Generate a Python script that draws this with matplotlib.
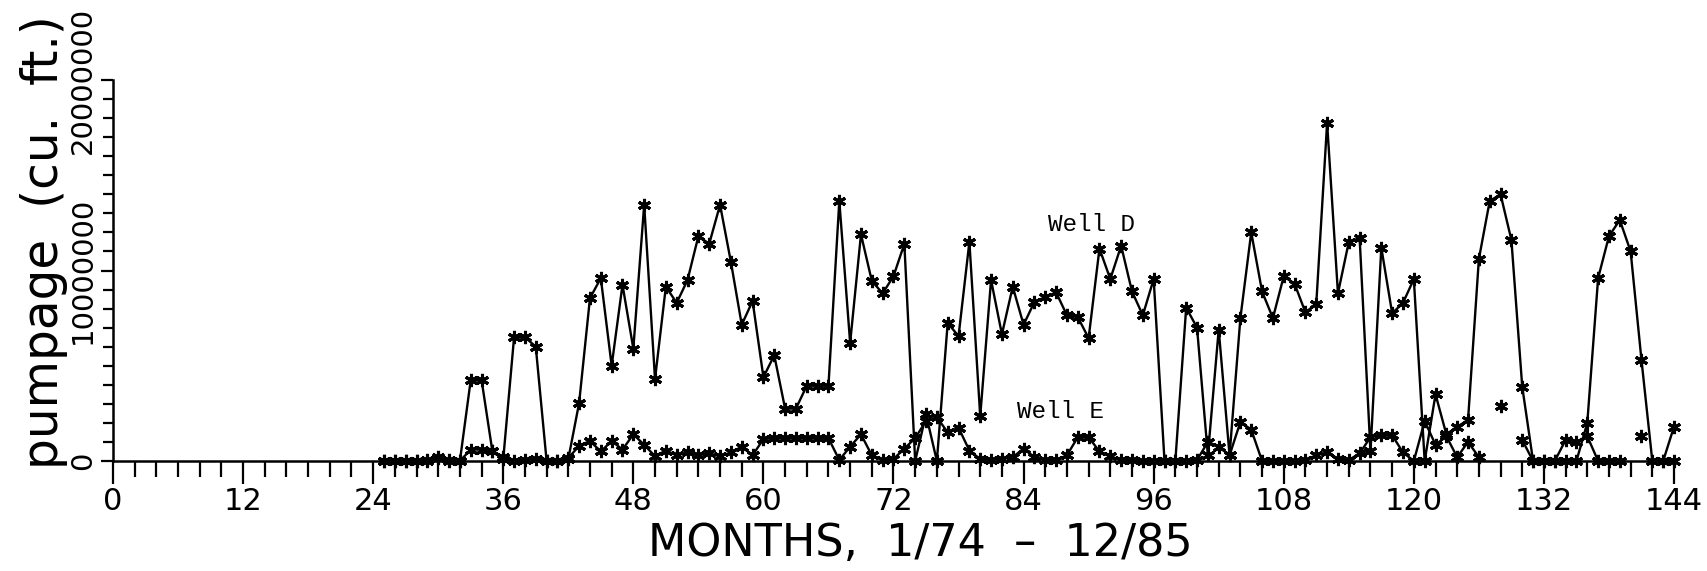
import numpy as np
import matplotlib
matplotlib.use("Agg")
import matplotlib.pyplot as plt
from matplotlib.ticker import MultipleLocator

# ── Data (monthly pumpage, cu. ft.; month 1 = 1/74) ──────────────────────────
months = np.arange(25, 145)

well_d = np.array([
    0.0, 0.0, 0.0, 0.0, 0.0, 0.2, 0.0, 0.0,                 # 25-32
    4.25, 4.25, 0.5, 0.1, 6.5, 6.5, 6.0, 0.0,               # 33-40
    0.0, 0.1, 3.05, 8.55, 9.6, 5.0, 9.25, 5.9,              # 41-48
    13.45, 4.3, 9.15, 8.3, 9.5, 11.8, 11.4, 13.45,          # 49-56
    10.45, 7.15, 8.4, 4.4, 5.55, 2.75, 2.75, 3.95,          # 57-64
    3.95, 3.95, 13.65, 6.2, 11.9, 9.45, 8.8, 9.7,           # 65-72
    11.4, 0.0, 2.45, 0.0, 7.25, 6.55, 11.5, 2.35,           # 73-80
    9.5, 6.65, 9.15, 7.15, 8.35, 8.6, 8.85, 7.65,           # 81-88
    7.55, 6.45, 11.15, 9.55, 11.3, 8.9, 7.65, 9.55,         # 89-96
    0.0, 0.0, 8.05, 7.0, 0.3, 6.9, 0.3, 7.5,                # 97-104
    12.0, 8.9, 7.5, 9.7, 9.3, 7.8, 8.25, 17.75,             # 105-112
    8.8, 11.5, 11.7, 0.5, 11.2, 7.75, 8.3, 9.55,            # 113-120
    0.0, 3.5, 1.4, 1.8, 2.15, 10.6, 13.65, 14.0,            # 121-128
    11.6, 3.9, 0.0, 0.0, 0.0, 0.0, 0.0, 2.0,                # 129-136
    9.6, 11.8, 12.65, 11.0, 5.3, 0.0, 0.0, 1.8,             # 137-144
]) * 1e6

well_e = np.array([
    0.0, 0.0, 0.0, 0.0, 0.05, 0.15, 0.05, 0.0,              # 25-32
    0.6, 0.6, 0.5, 0.2, 0.0, 0.05, 0.1, 0.0,                # 33-40
    0.0, 0.15, 0.8, 1.05, 0.5, 1.05, 0.6, 1.4,              # 41-48
    0.85, 0.25, 0.55, 0.3, 0.45, 0.3, 0.4, 0.25,            # 49-56
    0.45, 0.75, 0.3, 1.15, 1.2, 1.2, 1.2, 1.2,              # 57-64
    1.2, 1.2, 0.05, 0.75, 1.4, 0.3, 0.05, 0.1,              # 65-72
    0.65, 1.2, 2.1, 2.3, 1.5, 1.75, 0.55, 0.1,              # 73-80
    0.05, 0.1, 0.2, 0.65, 0.2, 0.05, 0.05, 0.3,             # 81-88
    1.25, 1.25, 0.5, 0.25, 0.05, 0.05, 0.0, 0.0,            # 89-96
    0.0, 0.0, 0.0, 0.05, 1.0, 0.75, 0.3, 2.05,              # 97-104
    1.65, 0.0, 0.0, 0.0, 0.0, 0.05, 0.3, 0.45,              # 105-112
    0.1, 0.05, 0.4, 1.25, 1.35, 1.35, 0.45, 0.0,            # 113-120
    2.1, 0.85, 1.3, 0.2, 1.0, 0.2, np.nan, 2.9,             # 121-128
    np.nan, 1.1, 0.0, 0.0, 0.0, 1.1, 1.0, 1.3,              # 129-136
    0.0, 0.0, 0.0, np.nan, 1.3, np.nan, 0.0, 0.0,           # 137-144
]) * 1e6

x_ticks_major = np.arange(0, 145, 12)
y_ticks_major = [0, 10000000, 20000000]
y_tick_labels = ['0', '10000000', '20000000']

# ── Figure ───────────────────────────────────────────────────────────────────
W, H = 1707, 571
fig = plt.figure(figsize=(W / 100, H / 100), dpi=100)
ax = fig.add_axes([113 / W, 1 - 461 / H, (1674 - 113) / W, (461 - 80) / H])

asterisk = (6, 2, 0)
for series in (well_d, well_e):
    ax.plot(months, series, color='black', linewidth=1.7,
            marker=asterisk, markersize=9.5, markeredgewidth=2.2,
            clip_on=False, zorder=3)

ax.set_xlim(0, 144)
ax.set_ylim(0, 20000000)

for side in ('top', 'right'):
    ax.spines[side].set_visible(False)
for side in ('left', 'bottom'):
    ax.spines[side].set_linewidth(1.8)

ax.set_xticks(x_ticks_major)
ax.xaxis.set_minor_locator(MultipleLocator(2))
ax.set_yticks(y_ticks_major, labels=y_tick_labels)
ax.yaxis.set_minor_locator(MultipleLocator(1000000))

ax.tick_params(axis='x', which='major', direction='out', length=16.5, width=1.6,
               labelsize=22, pad=2)
ax.tick_params(axis='x', which='minor', direction='out', length=11.5, width=1.6)
ax.tick_params(axis='y', which='major', direction='out', length=9, width=1.6,
               labelsize=21, pad=2.5, labelrotation=90)
ax.tick_params(axis='y', which='minor', direction='out', length=7, width=1.6)
for lab in ax.get_yticklabels():
    lab.set_verticalalignment('center')

ax.text(86.25, 12070000, 'Well D', family='Liberation Mono', fontsize=17.5)
ax.text(83.4, 2260000, 'Well E', family='Liberation Mono', fontsize=17.5)

fig.text(44 / W, 1 - 242 / H, 'pumpage  (cu.  ft.)', rotation=90,
         ha='center', va='center', fontsize=35)
fig.text(920 / W, 1 - 556 / H, 'MONTHS,  1/74  \u2013  12/85',
         ha='center', va='baseline', fontsize=32)

fig.savefig('out.png', dpi=100)
